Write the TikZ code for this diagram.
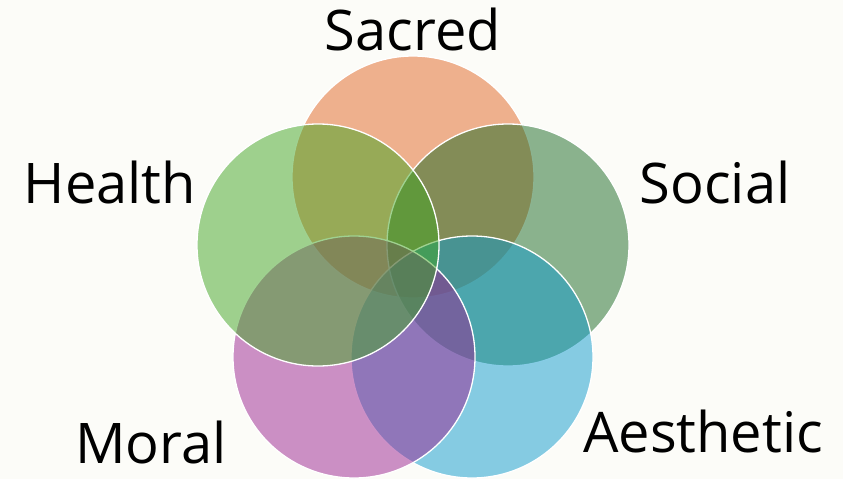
\documentclass[tikz,border=0pt]{standalone}
\usepackage{fontspec}
\setmainfont{Open Sans}
\definecolor{vnBack}{HTML}{FCFCF8}
\definecolor{vnSacred}{HTML}{E16523}
\definecolor{vnHealth}{HTML}{41A523}
\definecolor{vnSocial}{HTML}{196923}
\definecolor{vnAesthetic}{HTML}{0F9BCD}
\definecolor{vnMoral}{HTML}{9B2391}
\tikzset{
  vn ring/.style={circle, minimum size=242pt, inner sep=0pt, draw=white, line width=1.3pt, fill opacity=0.5},
  vn label/.style={anchor=base, inner sep=0pt, font=\fontsize{56}{62}\selectfont, text=black},
}
\begin{document}
\begin{tikzpicture}[x=1pt,y=-1pt]
  \fill[vnBack] (0,0) rectangle (843,479);
  \useasboundingbox (0,0) rectangle (843,479);
  % circles, bottom one first
  \node[vn ring, fill=vnSacred] (sacred) at (413,177) {};
  \node[vn ring, fill=vnSocial] (social) at (508,245) {};
  \node[vn ring, fill=vnAesthetic] (aesthetic) at (472,357) {};
  \node[vn ring, fill=vnMoral] (moral) at (354,357) {};
  \node[vn ring, fill=vnHealth] (health) at (318,245) {};
  % labels
  \node[vn label] (sacredtext) at (413,50) {Sacred};
  \node[vn label] (healthtext) at (110,203) {Health};
  \node[vn label] (socialtext) at (715,203) {Social};
  \node[vn label] (moraltext) at (151,463) {Moral};
  \node[vn label] (aesthetictext) at (703,452) {Aesthetic};
\end{tikzpicture}
\end{document}
